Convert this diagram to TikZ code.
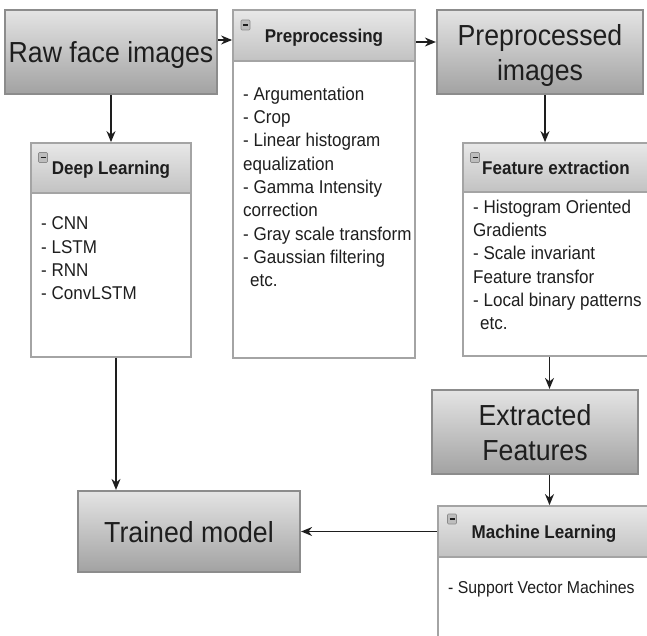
\documentclass[tikz,border=0pt]{standalone}
\usepackage{fontspec}
\setmainfont{Liberation Sans}[FakeStretch=0.92]
\usetikzlibrary{shapes,arrows.meta,positioning}

\definecolor{ink}{HTML}{1E1E1E}
\definecolor{boxtop}{HTML}{E4E4E4}
\definecolor{boxbottom}{HTML}{A2A2A2}
\definecolor{boxline}{HTML}{8C8C8C}
\definecolor{headtop}{HTML}{E8E8E8}
\definecolor{headbottom}{HTML}{C2C2C2}
\definecolor{panelline}{HTML}{A4A4A4}
\definecolor{foldfill}{HTML}{BDBDBD}
\definecolor{foldline}{HTML}{8A8A8A}

\begin{document}
\begin{tikzpicture}[x=1pt, y=-1pt]
    % Define styles
    \tikzstyle{stage} = [draw=boxline, line width=2.2pt, top color=boxtop, bottom color=boxbottom, minimum width=206pt, minimum height=84pt, inner sep=2pt, align=center, text depth=0pt, text=ink, font=\fontsize{29}{35}\selectfont]
    \tikzstyle{head} = [draw=panelline, line width=1.8pt, top color=headtop, bottom color=headbottom, minimum height=50pt, inner sep=2pt, text depth=0pt, text=ink, font=\fontsize{18.5}{22}\selectfont\bfseries]
    \tikzstyle{body} = [draw=panelline, line width=1.8pt, fill=white, inner sep=0pt]
    \tikzstyle{items} = [anchor=north west, inner sep=0pt, align=left, text=ink, font=\fontsize{18.5}{23.3}\selectfont]
    \tikzstyle{fold} = [draw=foldline, fill=foldfill, line width=0.6pt, rounded corners=1pt, minimum width=9pt, minimum height=10pt, inner sep=0pt, text=ink]
    \tikzstyle{arrow} = [line width=1.4pt, draw=ink, ->, >={Stealth[length=11pt, width=9pt]}]

    \useasboundingbox (0,0) rectangle (647,636);

    % Top row: raw images, preprocessing panel, preprocessed images
    \node[stage, minimum width=212pt] (raw) at (111,52) {Raw face images};
    \node[body, minimum width=182pt, minimum height=297pt] (prebody) at (324,209.5) {};
    \node[head, minimum width=182pt, minimum height=51pt] (prehead) at (324,35.5) {Preprocessing};
    \node[fold] (prefold) at (245.5,25) {\rule{5pt}{1.2pt}};
    \node[items] (prelist) at (243,86.7) {- Argumentation\\- Crop\\- Linear histogram\\equalization\\- Gamma Intensity\\correction\\- Gray scale transform\\- Gaussian filtering\\\hspace*{7pt}etc.};
    \node[stage] (ppimg) at (540,52) {Preprocessed\\images};

    % Deep learning panel
    \node[body, minimum width=160pt, minimum height=164pt] (dlbody) at (111,275) {};
    \node[head, minimum width=160pt] (dlhead) at (111,168) {Deep Learning};
    \node[fold] (dlfold) at (43,157.5) {\rule{5pt}{1.2pt}};
    \node[items] (dllist) at (41,216.7) {- CNN\\- LSTM\\- RNN\\- ConvLSTM};

    % Feature extraction panel
    \node[body, minimum width=186pt, minimum height=164pt] (febody) at (556,274) {};
    \node[head, minimum width=186pt, minimum height=49pt] (fehead) at (556,167.5) {Feature extraction};
    \node[fold] (fefold) at (475,157.5) {\rule{5pt}{1.2pt}};
    \node[items] (felist) at (473,199.7) {- Histogram Oriented\\Gradients\\- Scale invariant\\Feature transfor\\- Local binary patterns\\\hspace*{7pt}etc.};

    % Bottom row: extracted features, machine learning, trained model
    \node[stage] (exf) at (535,432) {Extracted\\Features};
    \node[body, minimum width=212pt, minimum height=84pt] (mlbody) at (544,599) {};
    \node[head, minimum width=212pt, minimum height=51pt] (mlhead) at (544,531.5) {Machine Learning};
    \node[fold] (mlfold) at (452,519) {\rule{5pt}{1.2pt}};
    \node[items, font=\fontsize{17.2}{20}\selectfont] (mllist) at (448,580.5) {- Support Vector Machines};
    \node[stage, minimum width=222pt, minimum height=81pt] (trained) at (189,531.5) {Trained model};

    % Arrows: image flow
    \draw[arrow] ([yshift=-4.5pt]prehead.west -| raw.east) -- ([yshift=-4.5pt]prehead.west);
    \draw[arrow] ([yshift=-6.5pt]prehead.east) -- ([yshift=-6.5pt]prehead.east -| ppimg.west);
    \draw[arrow] ([xshift=5pt]ppimg.south) -- ([xshift=5pt]ppimg.south |- fehead.north);
    \draw[arrow] ([xshift=-6.5pt]febody.south) -- ([xshift=-6.5pt]febody.south |- exf.north);
    \draw[arrow] ([xshift=14.5pt]exf.south) -- ([xshift=14.5pt]exf.south |- mlhead.north);

    % Arrows: deep learning branch
    \draw[arrow] (raw.south) -- (raw.south |- dlhead.north);
    \draw[arrow] ([xshift=5pt]dlbody.south) -- ([xshift=5pt]dlbody.south |- trained.north);

    % Arrows: into the trained model
    \draw[arrow] (mlhead.west |- trained.east) -- (trained.east);
\end{tikzpicture}
\end{document}
